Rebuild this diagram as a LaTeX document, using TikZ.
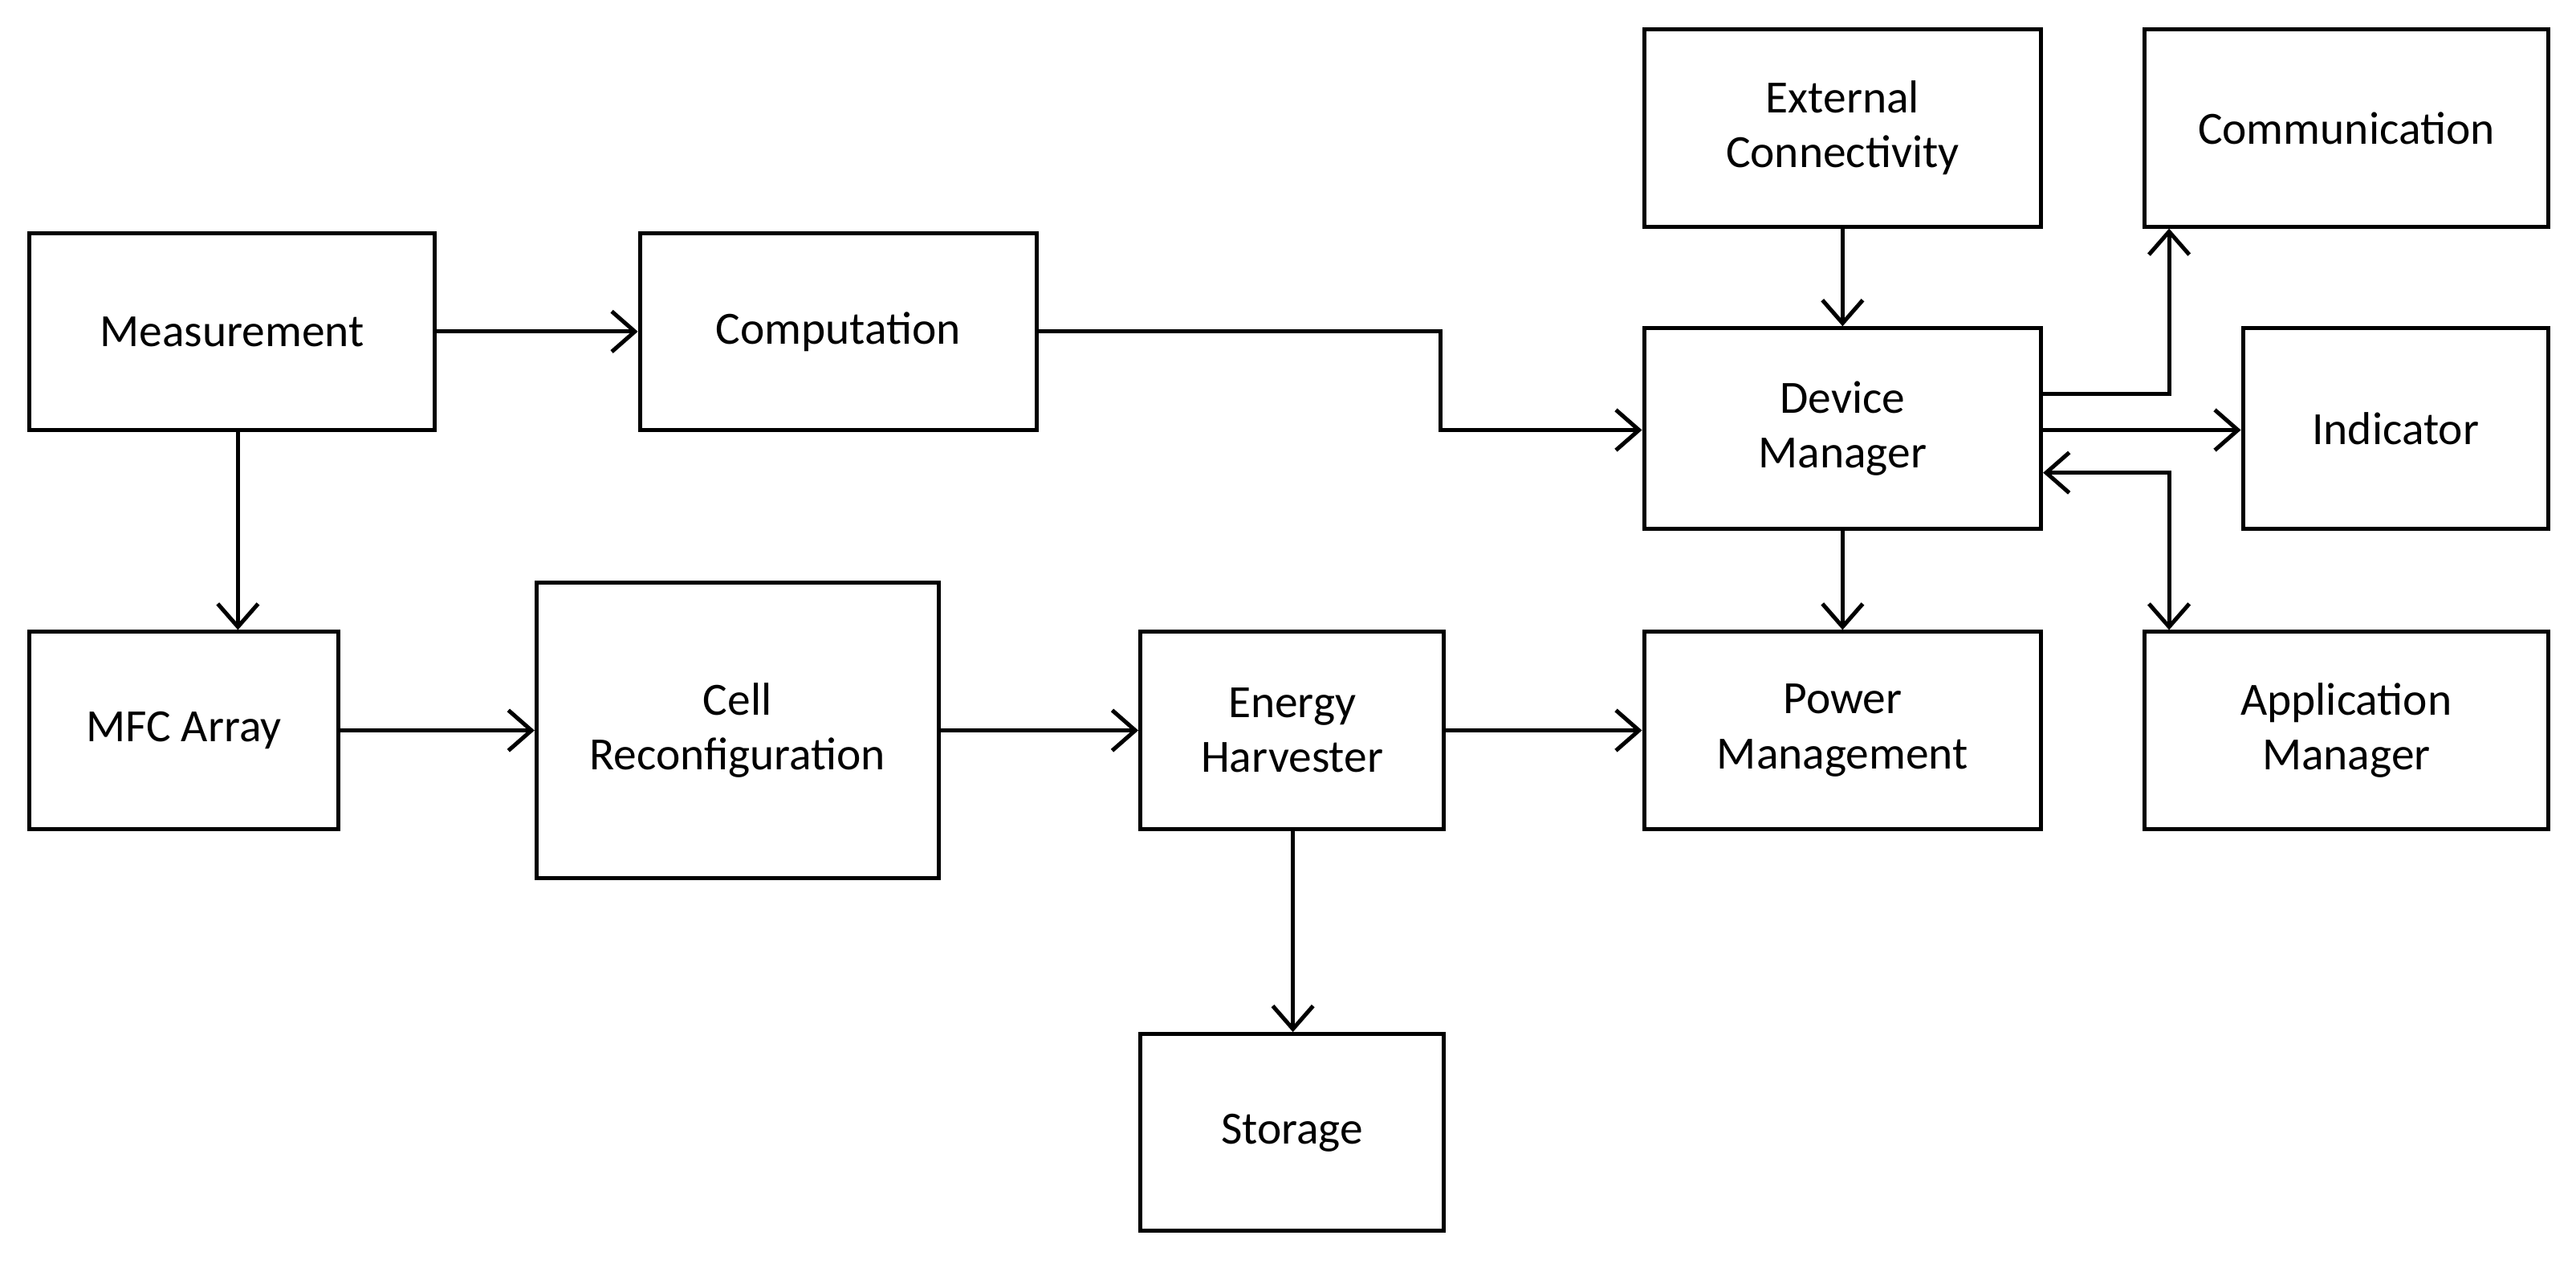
\documentclass[tikz,border=0pt]{standalone}
\usepackage{fontspec}
\setmainfont{Carlito}
\usetikzlibrary{arrows.meta}
\begin{document}
\begin{tikzpicture}[x=0.02cm,y=-0.02cm,
 box/.style={draw,line width=1.4pt,align=center,font=\fontsize{16}{19}\selectfont,inner sep=0pt},
 ar/.style={line width=1.4pt,-{Straight Barb[length=8pt,width=14pt,line width=1.4pt]}},
 dar/.style={line width=1.4pt,{Straight Barb[length=8pt,width=14pt,line width=1.4pt]}-{Straight Barb[length=8pt,width=14pt,line width=1.4pt]}}]
\useasboundingbox (0,0) rectangle (1570,770);
\newcommand\bx[6]{\node[box,minimum width={(#4-#2)*0.02cm},minimum height={(#5-#3)*0.02cm}] (#1) at ({(#2+#4)/2},{(#3+#5)/2}) {#6};}
\bx{meas}{18}{142}{265}{262}{Measurement}
\bx{comp}{390}{142}{632}{262}{Computation}
\bx{ext}{1002}{18}{1244}{138}{External\\Connectivity}
\bx{comm}{1307}{18}{1553}{138}{Communication}
\bx{dev}{1002}{200}{1244}{322}{Device\\Manager}
\bx{ind}{1367}{200}{1553}{322}{Indicator}
\bx{mfc}{18}{385}{206}{505}{MFC Array}
\bx{cell}{327}{355}{572}{535}{Cell\\Reconfiguration}
\bx{eh}{695}{385}{880}{505}{Energy\\Harvester}
\bx{pm}{1002}{385}{1244}{505}{Power\\Management}
\bx{app}{1307}{385}{1553}{505}{Application\\Manager}
\bx{sto}{695}{630}{880}{750}{Storage}
\draw[ar] (meas.east) -- (comp.west);
\draw[ar] (comp.east) -- (878,202) -- (878,262) -- (dev.west |- 0,262);
\draw[ar] (ext) -- (dev);
\draw[ar] (dev.east |- 0,240) -- (1322,240) -- (comm.south -| 1322,0);
\draw[ar] (dev.east |- 0,262) -- (ind.west |- 0,262);
\draw[dar] (dev.east |- 0,288) -- (1322,288) -- (app.north -| 1322,0);
\draw[ar] (dev) -- (pm);
\draw[ar] (meas.south -| 145,0) -- (mfc.north -| 145,0);
\draw[ar] (mfc.east) -- (cell.west |- 0,445);
\draw[ar] (cell.east |- 0,445) -- (eh.west);
\draw[ar] (eh.east) -- (pm.west);
\draw[ar] (eh.south -| 788,0) -- (sto.north -| 788,0);
\end{tikzpicture}
\end{document}
